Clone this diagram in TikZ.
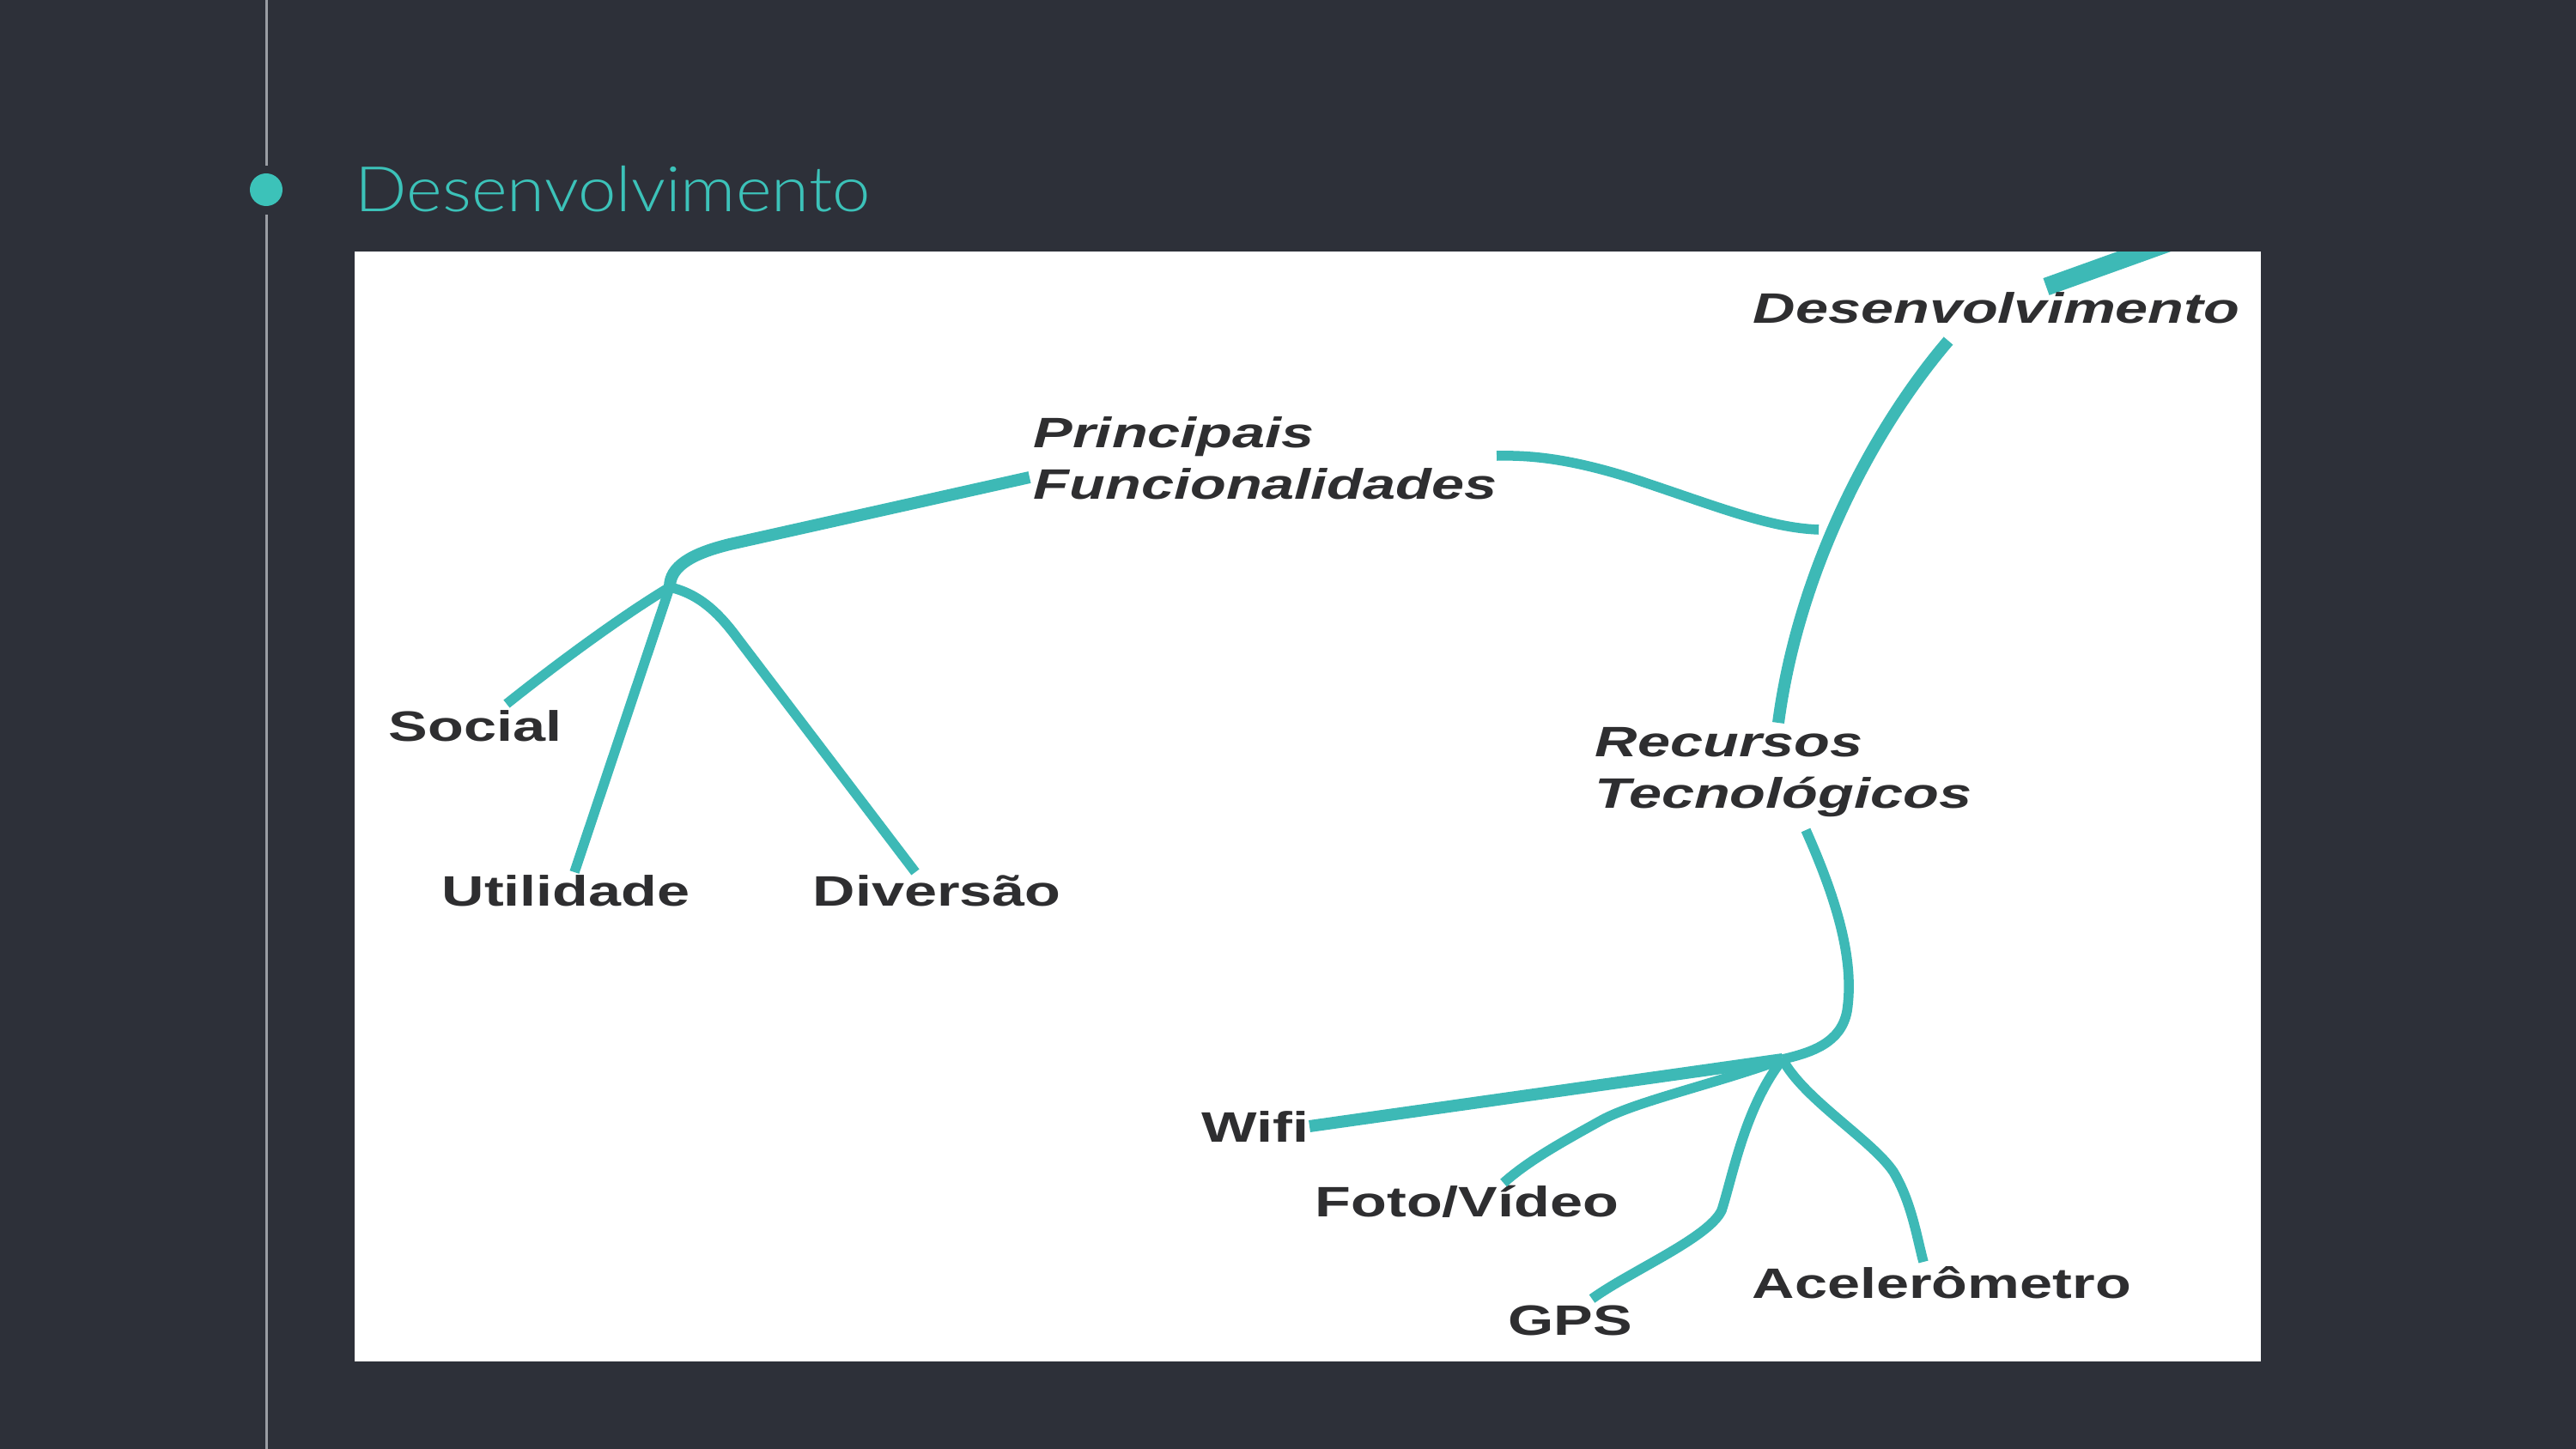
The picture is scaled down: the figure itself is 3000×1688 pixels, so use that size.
\documentclass[tikz,border=0pt]{standalone}
\usepackage{fontspec}
\usepackage{graphicx}
\setmainfont{Liberation Sans}
\newfontfamily\titlefont{Lato Light}
\definecolor{bgc}{HTML}{2D3039}
\definecolor{tealt}{HTML}{3CC2B9}
\definecolor{tealb}{HTML}{3DB9B6}
\definecolor{vgray}{HTML}{9A9DA4}
\definecolor{txt}{HTML}{2E2E30}
\newcommand\mapit[1]{\scalebox{1.38}[1]{\bfseries\itshape #1}}
\newcommand\maprm[1]{\scalebox{1.38}[1]{\bfseries #1}}
\tikzset{
  branch/.style={draw=tealb, line width=0.115cm, line cap=butt},
  lbl/.style={inner sep=0pt, anchor=base west, text=txt, font=\fontsize{14.1}{17.2}\selectfont},
  ttl/.style={inner sep=0pt, anchor=base west, text=tealt, font=\titlefont\fontsize{20.8}{24}\selectfont}
}
\begin{document}
\begin{tikzpicture}[x=0.01cm,y=-0.01cm]
\fill[bgc] (0,0) rectangle (3000,1688);
\useasboundingbox (0,0) rectangle (3000,1688);
% side line and dot
\draw[vgray, line width=0.03cm] (310,0) -- (310,193);
\draw[vgray, line width=0.03cm] (310,250) -- (310,1688);
\fill[tealt] (310,221) circle (0.19cm);
\node[ttl] (title) at (413,247) {\scalebox{1.09}[1]{Desenvolvimento}};
% white panel
\fill[white] (413,293) rectangle (2633,1586);
\begin{scope}
\clip (413,293) rectangle (2633,1586);
\coordinate (topin) at (2525,283);
\coordinate (topout) at (2383,334);
\draw[branch, line width=0.21cm] (topin) -- (topout);
\end{scope}
% labels
\node[lbl] (des) at (2041,376) {\mapit{Desenvolvimento}};
\node[lbl] (pri) at (1203,521) {\mapit{\begin{tabular}[t]{@{}l@{}}Principais\\Funcionalidades\end{tabular}}};
\node[lbl] (rec) at (1857,881) {\mapit{\begin{tabular}[t]{@{}l@{}}Recursos\\Tecnológicos\end{tabular}}};
\node[lbl] (soc) at (452,863) {\maprm{Social}};
\node[lbl] (uti) at (514,1055) {\maprm{Utilidade}};
\node[lbl] (div) at (946,1055) {\maprm{Diversão}};
\node[lbl] (wif) at (1399,1330) {\maprm{Wifi}};
\node[lbl] (fot) at (1531,1417) {\maprm{Foto/Vídeo}};
\node[lbl] (gps) at (1756,1555) {\maprm{GPS}};
\node[lbl] (ace) at (2040,1512) {\maprm{Acelerômetro}};
% connector points
\coordinate (desS) at (2269,397);
\coordinate (j1) at (2118,617);
\coordinate (recN) at (2071,842);
\coordinate (priE) at (1743,531);
\coordinate (priW) at (1199,556);
\coordinate (j0) at (780,684);
\coordinate (socE) at (590,820);
\coordinate (utiE) at (669,1016);
\coordinate (divE) at (1066,1016);
\coordinate (recS) at (2103,967);
\coordinate (j2) at (2076,1234);
\coordinate (wifE) at (1525,1312);
\coordinate (fotE) at (1751,1378);
\coordinate (gpsE) at (1854,1513);
\coordinate (aceE) at (2240,1470);
% branches
\draw[branch, line width=0.14cm] (desS) .. controls (2185,495) and (2095,660) .. (recN);
\draw[branch] (j1) .. controls (2060,615) and (2000,590) .. (1900,557) .. controls (1830,535) and (1785,530) .. (priE);
\draw[branch, line width=0.14cm] (priW) -- (850,634) .. controls (805,645) and (780,660) .. (j0);
\draw[branch] (j0) .. controls (720,720) and (640,780) .. (socE);
\draw[branch] (j0) -- (utiE);
\draw[branch] (j0) .. controls (815,692) and (838,715) .. (860,745) -- (divE);
\draw[branch] (recS) .. controls (2140,1050) and (2160,1120) .. (2151,1178) .. controls (2144,1215) and (2110,1226) .. (j2);
\draw[branch, line width=0.14cm] (j2) -- (wifE);
\draw[branch] (j2) .. controls (2000,1262) and (1905,1283) .. (1865,1305) .. controls (1820,1330) and (1780,1352) .. (fotE);
\draw[branch] (j2) .. controls (2032,1290) and (2018,1370) .. (2005,1410) .. controls (1990,1442) and (1900,1480) .. (gpsE);
\draw[branch] (j2) .. controls (2100,1280) and (2180,1328) .. (2205,1365) .. controls (2226,1400) and (2232,1440) .. (aceE);
\end{tikzpicture}
\end{document}
